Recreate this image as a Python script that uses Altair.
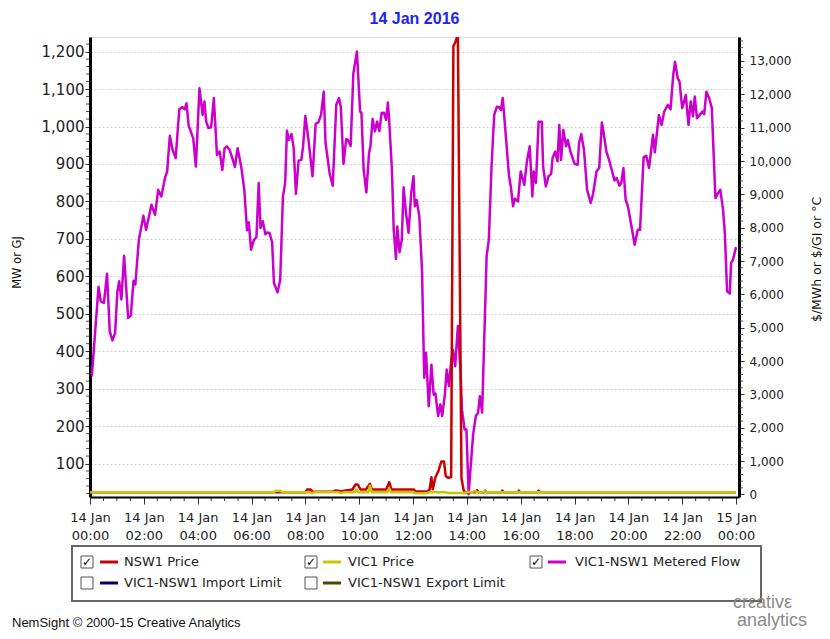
import altair as alt
import pandas as pd
import numpy as np

# ---------------- data ----------------
title_text = "14 Jan 2016"
footer_text = "NemSight \u00a9 2000-15 Creative Analytics"

flow_time = [
    "00:04", "00:19", "00:24", "00:31", "00:38", "00:44", "00:50", "00:56", "01:01", "01:05",
    "01:10", "01:16", "01:25", "01:31", "01:37", "01:41", "01:49", "01:59", "02:05", "02:17",
    "02:25", "02:32", "02:39", "02:47", "02:52", "02:58", "03:04", "03:11", "03:19", "03:26",
    "03:31", "03:35", "03:40", "03:50", "03:56", "04:04", "04:11", "04:15", "04:19", "04:24",
    "04:30", "04:36", "04:43", "04:49", "04:55", "05:00", "05:05", "05:11", "05:17", "05:23",
    "05:29", "05:37", "05:44", "05:50", "05:54", "05:59", "06:05", "06:11", "06:16", "06:20",
    "06:25", "06:31", "06:35", "06:40", "06:46", "06:50", "06:58", "07:04", "07:10", "07:15",
    "07:19", "07:23", "07:29", "07:34", "07:39", "07:45", "07:51", "07:55", "08:00", "08:07",
    "08:16", "08:23", "08:29", "08:35", "08:41", "08:45", "08:54", "09:01", "09:09", "09:15",
    "09:19", "09:25", "09:31", "09:35", "09:41", "09:47", "09:55", "10:02", "10:05", "10:10",
    "10:16", "10:22", "10:25", "10:30", "10:35", "10:40", "10:45", "10:50", "10:55", "11:00",
    "11:04", "11:07", "11:13", "11:17", "11:22", "11:25", "11:30", "11:35", "11:39", "11:44",
    "11:50", "11:56", "12:01", "12:04", "12:08", "12:14", "12:20", "12:25", "12:29", "12:35",
    "12:41", "12:46", "12:50", "12:56", "13:01", "13:05", "13:11", "13:15", "13:20", "13:25",
    "13:29", "13:34", "13:40", "13:46", "13:49", "13:55", "13:59", "14:04", "14:08", "14:14",
    "14:20", "14:25", "14:29", "14:34", "14:40", "14:44", "14:49", "14:55", "15:01", "15:07",
    "15:11", "15:16", "15:20", "15:27", "15:34", "15:38", "15:43", "15:47", "15:54", "16:00",
    "16:08", "16:14", "16:20", "16:26", "16:29", "16:34", "16:40", "16:47", "16:50", "16:56",
    "17:02", "17:08", "17:11", "17:17", "17:22", "17:26", "17:30", "17:35", "17:41", "17:45",
    "17:51", "18:00", "18:07", "18:10", "18:15", "18:21", "18:28", "18:36", "18:41", "18:49",
    "18:55", "19:01", "19:05", "19:11", "19:17", "19:23", "19:29", "19:34", "19:40", "19:44",
    "19:49", "19:54", "19:59", "20:07", "20:14", "20:21", "20:26", "20:34", "20:40", "20:46",
    "20:55", "20:59", "21:08", "21:14", "21:20", "21:28", "21:34", "21:40", "21:44", "21:50",
    "21:54", "22:00", "22:08", "22:14", "22:19", "22:24", "22:28", "22:33", "22:39", "22:45",
    "22:49", "22:54", "23:00", "23:06", "23:10", "23:14", "23:20", "23:25", "23:31", "23:35",
    "23:40", "23:46", "23:49", "23:53", "24:00",
]
flow_mw = [
    333, 572, 533, 529, 607, 453, 429, 449, 560, 587,
    538, 655, 489, 495, 588, 578, 698, 762, 724, 791,
    764, 831, 813, 862, 880, 975, 938, 916, 1046, 1052,
    1046, 1062, 1002, 969, 893, 1102, 1031, 1067, 1013, 996,
    998, 1076, 924, 933, 884, 942, 947, 938, 916, 892,
    942, 893, 831, 723, 744, 671, 696, 705, 849, 729,
    747, 712, 717, 716, 691, 582, 557, 591, 812, 849,
    989, 964, 980, 942, 820, 909, 911, 947, 1028, 964,
    867, 1007, 1011, 1031, 1093, 956, 876, 842, 1058, 1076,
    1053, 900, 966, 964, 948, 1142, 1200, 1040, 1037, 884,
    824, 929, 947, 1020, 987, 1013, 988, 1036, 1037, 1018,
    1064, 1013, 884, 724, 646, 733, 664, 698, 838, 773,
    716, 822, 867, 787, 804, 760, 618, 329, 396, 253,
    364, 284, 287, 227, 258, 227, 284, 351, 307, 373,
    404, 360, 467, 342, 244, 191, 191, 18, 84, 178,
    227, 236, 280, 236, 484, 653, 698, 893, 1031, 1053,
    1052, 1044, 1076, 973, 867, 840, 787, 807, 800, 880,
    844, 908, 947, 813, 880, 849, 1013, 1013, 893, 840,
    867, 874, 916, 933, 907, 1004, 911, 991, 947, 964,
    933, 900, 898, 956, 980, 938, 831, 796, 818, 880,
    889, 1011, 982, 933, 911, 884, 856, 862, 842, 849,
    889, 804, 787, 733, 684, 724, 724, 918, 922, 889,
    978, 931, 1031, 1004, 1040, 1058, 1046, 1138, 1173, 1129,
    1120, 1049, 1084, 1004, 1067, 1027, 1080, 1022, 1031, 1040,
    1033, 1093, 1076, 1049, 929, 809, 822, 831, 778, 716,
    560, 554, 636, 644, 678,
]

nsw1_time = [
    "00:00", "08:00", "08:04", "08:12", "08:16", "09:00", "09:08", "09:20", "09:45", "09:52",
    "09:57", "10:03", "10:15", "10:24", "10:28", "11:00", "11:07", "11:12", "12:02", "12:06",
    "12:32", "12:37", "12:41", "12:44", "12:50", "12:57", "13:03", "13:09", "13:13", "13:19",
    "13:25", "13:30", "13:34", "13:40", "13:48", "13:53", "13:58", "14:05", "14:20", "14:23",
    "14:26", "14:39", "14:41", "14:44", "15:17", "15:19", "15:22", "15:54", "15:56", "15:59",
    "16:38", "16:40", "16:43", "24:00",
]
nsw1_price = [
    65, 65, 150, 150, 80, 80, 120, 100, 150, 300,
    300, 150, 150, 320, 150, 150, 370, 150, 150, 90,
    90, 150, 520, 160, 520, 720, 990, 990, 550, 500,
    520, 13450, 13550, 13800, 480, 120, 40, 70, 70, 130,
    70, 70, 120, 70, 70, 120, 70, 70, 120, 70,
    70, 120, 70, 70,
]

vic1_time = [
    "00:00", "06:50", "06:53", "07:05", "07:08", "08:10", "08:15", "08:20", "09:15", "09:20",
    "09:25", "09:50", "09:54", "09:58", "10:20", "10:24", "10:28", "11:03", "11:07", "11:11",
    "12:00", "12:08", "12:30", "12:35", "13:10", "13:20", "13:55", "14:03", "14:10", "14:18",
    "14:22", "14:35", "14:40", "14:44", "24:00",
]
vic1_price = [
    65, 65, 110, 110, 65, 65, 40, 65, 65, 40,
    65, 65, 150, 65, 65, 260, 65, 65, 180, 65,
    65, 35, 35, 65, 65, 45, 45, 80, 60, 110,
    70, 70, 100, 70, 70,
]

x_tick_hours = list(range(0, 25, 2))
left_ticks = list(range(100, 1300, 100))
right_ticks = list(range(0, 14000, 1000))

legend_names = ["NSW1 Price", "VIC1 Price", "VIC1-NSW1 Metered Flow",
                "VIC1-NSW1 Import Limit", "VIC1-NSW1 Export Limit"]
legend_colors = ["#CC0000", "#C8C800", "#CC00CC", "#000066", "#4A4A00"]
legend_checked = [True, True, True, False, False]

# ---------------- layout ----------------
W, H = 649, 460
X_DOMAIN = [0, 24.11]
LEFT_DOMAIN = [10.7, 1239]
RIGHT_DOMAIN = [-75, 13719]
FONT = "DejaVu Sans"


def to_hours(s):
    h, m = s.split(":")
    return int(h) + int(m) / 60.0


flow_df = pd.DataFrame({"t": [to_hours(s) for s in flow_time], "v": flow_mw})
nsw_df = pd.DataFrame({"t": [to_hours(s) for s in nsw1_time], "v": nsw1_price})
vic_df = pd.DataFrame({"t": [to_hours(s) for s in vic1_time], "v": vic1_price})

x_axis = alt.Axis(
    values=x_tick_hours,
    labelExpr="datum.value >= 24 ? ['15 Jan', '00:00'] : ['14 Jan', (datum.value < 10 ? '0' : '') + datum.value + ':00']",
    grid=False, domainColor="#000000", domainWidth=2, tickColor="#333333", tickSize=7,
    labelFont=FONT, labelFontSize=13, labelColor="#222222", labelPadding=7,
    labelLineHeight=18, labelFlush=False, labelOverlap=False, title=None,
)


def xenc():
    return alt.X("t:Q", scale=alt.Scale(domain=X_DOMAIN, nice=False, zero=False), axis=x_axis)


left_axis = alt.Axis(
    orient="left", values=left_ticks, format=",d", grid=True, gridColor="#CDCDCD",
    gridDash=[2, 2], gridWidth=1, domainColor="#000000", domainWidth=3,
    tickColor="#333333", tickSize=5, labelFont=FONT, labelFontSize=15, labelColor="#222222",
    labelPadding=1, title="MW or GJ", titleFont=FONT, titleFontSize=11.5,
    titleFontWeight="normal", titleColor="#111111", titleAngle=270, titleX=-73, titleY=225,
    titleAlign="center", titleBaseline="middle",
)
right_axis = alt.Axis(
    orient="right", values=right_ticks, format=",d", grid=False, domainColor="#000000",
    domainWidth=3, tickColor="#333333", tickSize=5, labelFont=FONT, labelFontSize=12,
    labelColor="#222222", labelPadding=5, title="$/MWh or $/GJ or \u00b0C", titleFont=FONT,
    titleFontSize=12.5, titleFontWeight="normal", titleColor="#111111", titleAngle=270,
    titleX=77, titleY=222, titleAlign="center", titleBaseline="middle",
)

flow = alt.Chart(flow_df).mark_line(color="#CC00CC", strokeWidth=2.5, strokeJoin="round").encode(
    x=xenc(),
    y=alt.Y("v:Q", scale=alt.Scale(domain=LEFT_DOMAIN, nice=False, zero=False), axis=left_axis),
)
nsw = alt.Chart(nsw_df).mark_line(color="#CC0000", strokeWidth=2.5, strokeJoin="round", clip=True).encode(
    x=xenc(),
    y=alt.Y("v:Q", scale=alt.Scale(domain=RIGHT_DOMAIN, nice=False, zero=False), axis=right_axis),
)
vic = alt.Chart(vic_df).mark_line(color="#C8C800", strokeWidth=2.5, strokeJoin="round").encode(
    x=xenc(),
    y=alt.Y("v:Q", scale=alt.Scale(domain=RIGHT_DOMAIN, nice=False, zero=False), axis=None),
)

# minor ticks
minor_x_df = pd.DataFrame({"t": [h for h in np.arange(0.5, 24.0, 0.5) if h % 2 != 0]})
minor_x = alt.Chart(minor_x_df).mark_rule(color="#333333", strokeWidth=1).encode(
    x=xenc(), y=alt.value(H + 1), y2=alt.value(H + 4))
minor_l_df = pd.DataFrame({"v": [v for v in range(20, 1240, 20) if v % 100 != 0]})
minor_l = alt.Chart(minor_l_df).mark_rule(color="#555555", strokeWidth=1).encode(
    y=alt.Y("v:Q", scale=alt.Scale(domain=LEFT_DOMAIN, nice=False, zero=False), axis=None),
    x=alt.value(-4), x2=alt.value(-1))
minor_r_df = pd.DataFrame({"v": [v for v in range(200, 13700, 200) if v % 1000 != 0]})
minor_r = alt.Chart(minor_r_df).mark_rule(color="#555555", strokeWidth=1).encode(
    y=alt.Y("v:Q", scale=alt.Scale(domain=RIGHT_DOMAIN, nice=False, zero=False), axis=None),
    x=alt.value(W + 1), x2=alt.value(W + 4))

# ---------------- legend box and footer (decoration) ----------------
one = pd.DataFrame({"k": [0]})


def txt(text, x, y, size, color, font=FONT, align="left", weight="normal"):
    return alt.Chart(one).mark_text(text=text, align=align, baseline="middle", font=font,
                                    fontSize=size, color=color, fontWeight=weight).encode(
        x=alt.value(x), y=alt.value(y))


def rect(x0, x1, y0, y1, stroke, sw, fill=None):
    if fill is None:
        m = alt.Chart(one).mark_rect(filled=False, stroke=stroke, strokeWidth=sw)
    else:
        m = alt.Chart(one).mark_rect(fill=fill, stroke=stroke, strokeWidth=sw)
    return m.encode(x=alt.value(x0), x2=alt.value(x1), y=alt.value(y0), y2=alt.value(y1))


def hline(x0, x1, y, color, sw):
    return alt.Chart(one).mark_rule(color=color, strokeWidth=sw).encode(
        x=alt.value(x0), x2=alt.value(x1), y=alt.value(y))


decor = [rect(-18, 671, 509, 564, "#666666", 2)]
col_box = [-9, 215, 440]
col_line = [10, 233, 458]
col_text = [34, 258, 485]
row_y = [525, 546]
for i, (name, color, checked) in enumerate(zip(legend_names, legend_colors, legend_checked)):
    r, c = divmod(i, 3)
    y = row_y[r]
    decor.append(rect(col_box[c], col_box[c] + 12, y - 6, y + 6, "#555555", 1, fill="#FFFFFF"))
    if checked:
        decor.append(txt("\u2713", col_box[c] + 6, y, 12, "#000000", align="center", weight="bold"))
    decor.append(hline(col_line[c], col_line[c] + 18, y, color, 3))
    decor.append(txt(name, col_text[c], y, 13, "#222222"))

decor.append(txt(footer_text, -78, 586, 13, "#111111", font="Liberation Sans"))
decor.append(txt("cr\u03b5ativ\u03b5", 643, 566, 18, "#8A8A8A", font="Liberation Sans"))
decor.append(txt("analytics", 647, 584, 18, "#8A8A8A", font="Liberation Sans"))

chart = alt.layer(flow, nsw, vic, minor_x, minor_l, minor_r, *decor).resolve_scale(
    y="independent"
).properties(
    width=W, height=H,
    autosize=alt.AutoSizeParams(type="none"),
    padding={"left": 82, "top": 29, "right": 83, "bottom": 134},
    title=alt.TitleParams(title_text, font="Liberation Sans", fontSize=16, fontWeight="bold",
                          color="#2222EE", anchor="middle", offset=12, dy=15,
                          baseline="alphabetic"),
).configure_view(
    fill="#EBEBEB", stroke="#8C8C8C", strokeWidth=2
).configure(background="#FFFFFF")

chart.save("out.html", embed_options={"renderer": "svg", "actions": False})
